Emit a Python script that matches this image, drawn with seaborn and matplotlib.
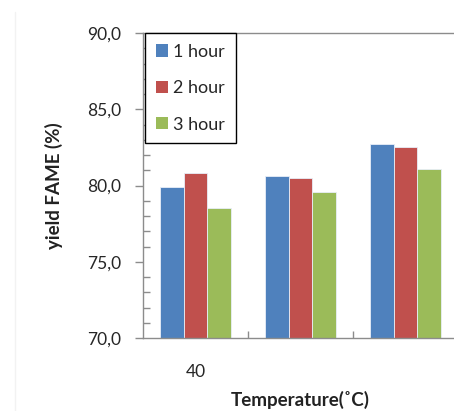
import matplotlib
matplotlib.use("Agg")
import matplotlib.pyplot as plt
import matplotlib.lines as mlines
from matplotlib.patches import Patch
from matplotlib.ticker import MultipleLocator, FixedLocator, FuncFormatter
import seaborn as sns
import pandas as pd

# Data
categories = ["40", "50", "60"]
tick_labels = ["40", "", ""]
series = ["1 hour", "2 hour", "3 hour"]
yield_1h = [79.9, 80.6, 82.7]
yield_2h = [80.8, 80.5, 82.5]
yield_3h = [78.5, 79.55, 81.1]
colors = ["#4F81BD", "#C0504D", "#9BBB59"]

df = pd.DataFrame({
    "Temperature": categories * 3,
    "Series": [s for s in series for _ in categories],
    "Yield": yield_1h + yield_2h + yield_3h,
})

sns.set_theme(style="white")
plt.rcParams["font.family"] = ["Lato", "DejaVu Sans"]

fig = plt.figure(figsize=(4.54, 4.11), dpi=100)
ax = fig.add_axes([143 / 454, 1 - 338 / 411, 315 / 454, 305 / 411])

sns.barplot(data=df, x="Temperature", y="Yield", hue="Series",
            order=categories, hue_order=series, palette=colors,
            width=0.667, saturation=1, edgecolor="#e8eef8", linewidth=0.6,
            legend=False, ax=ax)

ax.set_xlim(-0.5, 2.5)
ax.set_ylim(70, 90)

spine_c = "#8c8c8c"
for s in ax.spines.values():
    s.set_color(spine_c)
    s.set_linewidth(1.0)

# y axis: labelled majors outward, unit minors inward
ax.yaxis.set_major_locator(MultipleLocator(5))
ax.yaxis.set_minor_locator(MultipleLocator(1))
ax.yaxis.set_major_formatter(FuncFormatter(lambda v, p: f"{v:.1f}".replace(".", ",")))
ax.tick_params(axis="y", which="major", direction="out", length=6, width=1,
               color=spine_c, labelsize=12.5, labelcolor="#262626", pad=10, left=True)
ax.tick_params(axis="y", which="minor", direction="in", length=5, width=1,
               color=spine_c, left=True)

# x axis: ticks inward at category centres and boundaries
ax.set_xticks(range(len(categories)))
ax.set_xticklabels(tick_labels)
ax.xaxis.set_minor_locator(FixedLocator([0.5, 1.5]))
ax.tick_params(axis="x", which="major", direction="in", length=4, width=1,
               color=spine_c, labelsize=12.5, labelcolor="#262626", pad=19, bottom=True)
ax.tick_params(axis="x", which="minor", direction="in", length=5, width=1,
               color=spine_c, bottom=True)

ax.set_xlabel("Temperature(˚C)", fontsize=13.5, fontweight="bold", color="#222222")
ax.xaxis.set_label_coords(0.498, -0.172)
ax.set_ylabel("yield FAME (%)", fontsize=13.5, fontweight="bold", color="#222222")
ax.yaxis.set_label_coords(-0.255, 0.5)

handles = [Patch(facecolor=c, edgecolor="none", label=s) for c, s in zip(colors, series)]
leg = ax.legend(handles=handles, loc="upper left",
                bbox_to_anchor=(145 / 454, 1 - 33 / 411), bbox_transform=fig.transFigure,
                fontsize=13, frameon=True, fancybox=False, framealpha=1,
                edgecolor="black", borderpad=0.6, labelspacing=1.13,
                handlelength=0.65, handleheight=0.65, handletextpad=0.3,
                borderaxespad=0)
leg.get_frame().set_linewidth(1.0)
for t in leg.get_texts():
    t.set_color("#262626")

# faint page edge on the left
fig.add_artist(mlines.Line2D([15 / 454, 15 / 454], [0, 1 - 12 / 411],
                             transform=fig.transFigure, color="#f2f2f2", lw=1))

fig.savefig("out.png", dpi=100)
